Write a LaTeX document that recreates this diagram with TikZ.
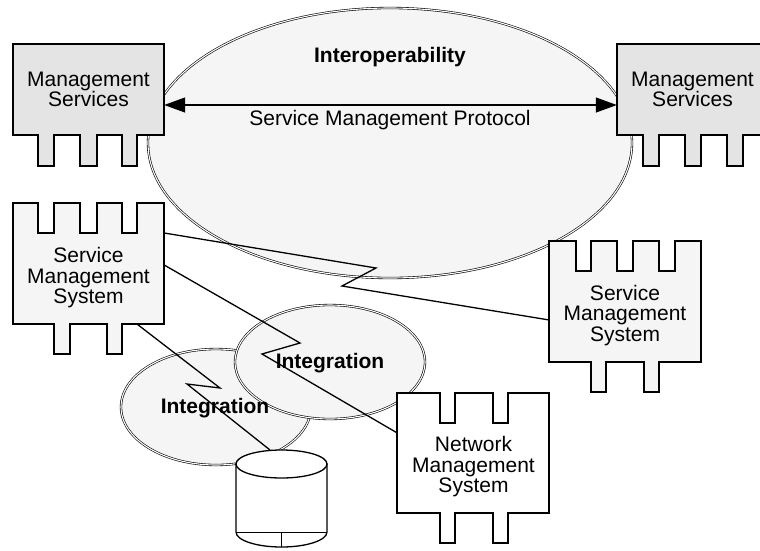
\documentclass[tikz,border=0pt]{standalone}
\usepackage{fontspec}
\setmainfont{Liberation Sans}
\usetikzlibrary{arrows.meta,shapes.geometric}
\definecolor{msgray}{HTML}{E4E4E4}
\definecolor{lightfill}{HTML}{F5F5F5}
\begin{document}
\begin{tikzpicture}[x=1pt,y=-1pt,
  outline/.style={draw=black,line width=1.3pt,line join=miter},
  bodybox/.style={inner sep=0pt,minimum width=151pt,minimum height=#1},
  lbl/.style={align=center,font=\fontsize{21}{20.5}\selectfont,inner sep=0pt},
  boldlbl/.style={font=\fontsize{21}{21}\selectfont\bfseries,inner sep=0pt},
  ringfill/.style={ellipse,draw=black,double=white,double distance=1.1pt,line width=0.6pt,fill=lightfill,inner sep=0pt},
  wire/.style={line width=1.3pt,line join=miter},
  >={Triangle[length=21pt,width=15pt]}
  ]
\useasboundingbox (0,0) rectangle (760,550);
\clip (0,0) rectangle (760,550);

% Interoperability cloud
\node[ringfill,minimum width=484pt,minimum height=270pt] (interop) at (390,143) {};
\node[boldlbl] (interoplbl) at (390,57) {Interoperability};

% Management Services (left)
\draw[outline,fill=msgray] (13,44) -- (164,44) -- (164,135) -- (137,135) -- (137,166) -- (122,166) -- (122,135) -- (97,135) -- (97,166) -- (80,166) -- (80,135) -- (54,135) -- (54,166) -- (38,166) -- (38,135) -- (13,135) -- cycle;
\node[bodybox=91pt,lbl] (ms1) at (88.5,89.5) {Management\\Services};

% Management Services (right)
\draw[outline,fill=msgray] (617,44) -- (768,44) -- (768,135) -- (743,135) -- (743,166) -- (727,166) -- (727,135) -- (701,135) -- (701,166) -- (685,166) -- (685,135) -- (659,135) -- (659,166) -- (643,166) -- (643,135) -- (617,135) -- cycle;
\node[bodybox=91pt,lbl] (ms2) at (692.5,89.5) {Management\\Services};

% protocol arrow
\draw[line width=1.2pt,<->] ([yshift=-15.5pt]ms1.east) -- ([yshift=-15.5pt]ms2.west);
\node[lbl] (protocol) at (390,120) {Service Management Protocol};

% Service Management System (left)
\draw[outline,fill=lightfill] (13,203) -- (38,203) -- (38,233) -- (54,233) -- (54,203) -- (80,203) -- (80,233) -- (97,233) -- (97,203) -- (122,203) -- (122,233) -- (137,233) -- (137,203) -- (164,203) -- (164,324) -- (122,324) -- (122,354) -- (107,354) -- (107,324) -- (70,324) -- (70,354) -- (54,354) -- (54,324) -- (13,324) -- cycle;
\node[bodybox=121pt] (sms1) at (88.5,263.5) {};
\node[lbl] (sms1lbl) at (88.5,278) {Service\\Management\\System};

% Service Management System (right)
\draw[outline,fill=lightfill] (549,241) -- (576,241) -- (576,271) -- (591,271) -- (591,241) -- (617,241) -- (617,271) -- (633,271) -- (633,241) -- (659,241) -- (659,271) -- (675,271) -- (675,241) -- (701,241) -- (701,362) -- (659,362) -- (659,392) -- (644,392) -- (644,362) -- (606,362) -- (606,392) -- (591,392) -- (591,362) -- (549,362) -- cycle;
\node[bodybox=121pt] (sms2) at (625,301.5) {};
\node[lbl] (sms2lbl) at (625,315.5) {Service\\Management\\System};

% Integration clouds
\node[ringfill,minimum width=190pt,minimum height=116pt] (integB) at (216,407) {};
\node[ringfill,minimum width=190pt,minimum height=114pt] (integA) at (330,362) {};

% Network Management System
\draw[outline,fill=white] (397,393) -- (440,393) -- (440,423) -- (455,423) -- (455,393) -- (493,393) -- (493,423) -- (508,423) -- (508,393) -- (549,393) -- (549,513) -- (508,513) -- (508,543) -- (493,543) -- (493,513) -- (455,513) -- (455,543) -- (440,543) -- (440,513) -- (397,513) -- cycle;
\node[bodybox=120pt] (nms) at (473,453) {};
\node[lbl] (nmslbl) at (473.5,467) {Network\\Management\\System};

% database cylinder
\draw[outline,fill=white] (236,464) -- (236,532) arc[start angle=180,end angle=360,x radius=45.5pt,y radius=15pt] -- (327,464) -- cycle;
\draw[outline,fill=white] (281.5,464) ellipse[x radius=45.5pt,y radius=14pt];
\draw[line width=1pt] (236,532) -- (327,532);
\draw[line width=1pt] (281.5,532) -- (281.5,547);
\node[inner sep=0pt,minimum width=91pt,minimum height=68pt] (cyl) at (281.5,498) {};
\coordinate (cyltop) at (270,450);

% labels
\node[boldlbl] (integAlbl) at (330,363) {Integration};
\node[boldlbl] (integBlbl) at (215,408) {Integration};

% connectors
\draw[wire] ([yshift=30.5pt]sms1.east) -- (376,268) -- (342,286) -- ([yshift=-18.5pt]sms2.west);
\draw[wire] ([yshift=-1.5pt]sms1.east) -- (300,343) -- (262,354) -- ([yshift=20pt]nms.west);
\draw[wire] ([xshift=-27pt]sms1.south east) -- (220,388) -- (187,384) -- (cyltop);
\end{tikzpicture}
\end{document}
